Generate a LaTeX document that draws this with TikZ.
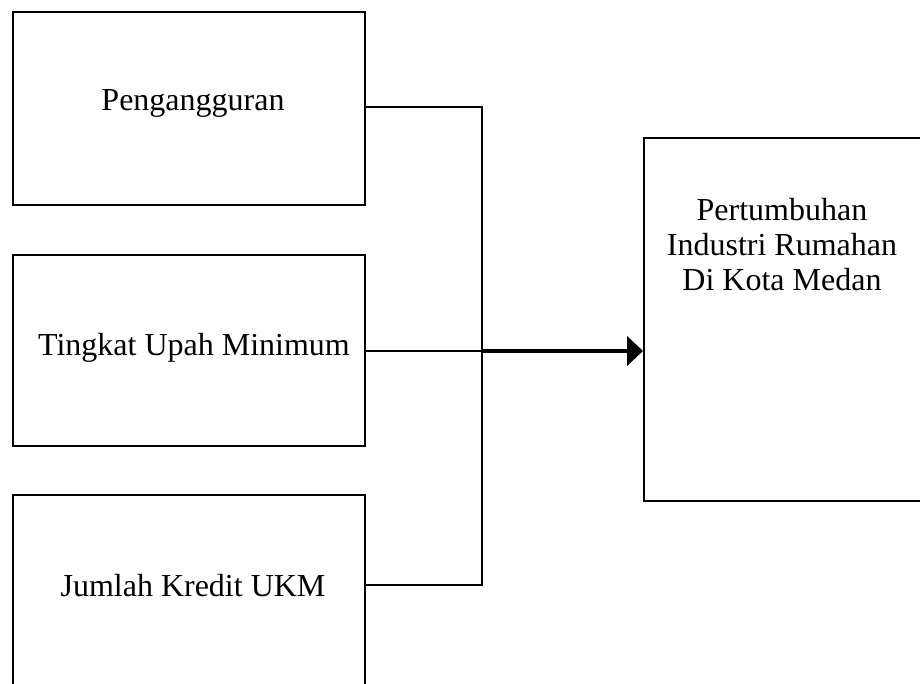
\documentclass[tikz,border=0pt]{standalone}
\usepackage{fontspec}
\setmainfont{Liberation Serif}
\usetikzlibrary{arrows.meta}
\begin{document}
\begin{tikzpicture}[x=0.75pt,y=-0.75pt,
  box/.style={draw=black,line width=1.5pt,rectangle,inner sep=0pt},
  lbl/.style={inner sep=0pt,font=\fontsize{24}{26.25}\selectfont,align=center},
  conn/.style={draw=black,line width=1.5pt},
  mainarrow/.style={draw=black,line width=2.4pt,-{Triangle[length=12pt,width=22pt]}}]
\useasboundingbox (0,0) rectangle (920,684);
\node[box,minimum width=264pt,minimum height=144.75pt] (b1) at (189,108.5) {};
\node[box,minimum width=264pt,minimum height=143.25pt] (b2) at (189,350.5) {};
\node[box,minimum width=264pt,minimum height=144pt] (b3) at (189,591) {};
\node[box,minimum width=208.5pt,minimum height=272.25pt] (rb) at (783,319.5) {};
\node[lbl] (t1) at (193,103) {Pengangguran};
\node[lbl] (t2) at (194,348) {Tingkat Upah Minimum};
\node[lbl] (t3) at (193,586) {Jumlah Kredit UKM};
\node[lbl] (t4) at (782,245) {Pertumbuhan\\Industri Rumahan\\Di Kota Medan};
\coordinate (j1) at (482,107);
\coordinate (j2) at (482,351);
\coordinate (j3) at (482,585);
\draw[conn] (b1.east |- j1) -- (j1) -- (j3) -- (b3.east |- j3);
\draw[conn] (b2.east |- j2) -- (j2);
\draw[mainarrow] (j2) -- (rb.west |- j2);
\end{tikzpicture}
\end{document}
